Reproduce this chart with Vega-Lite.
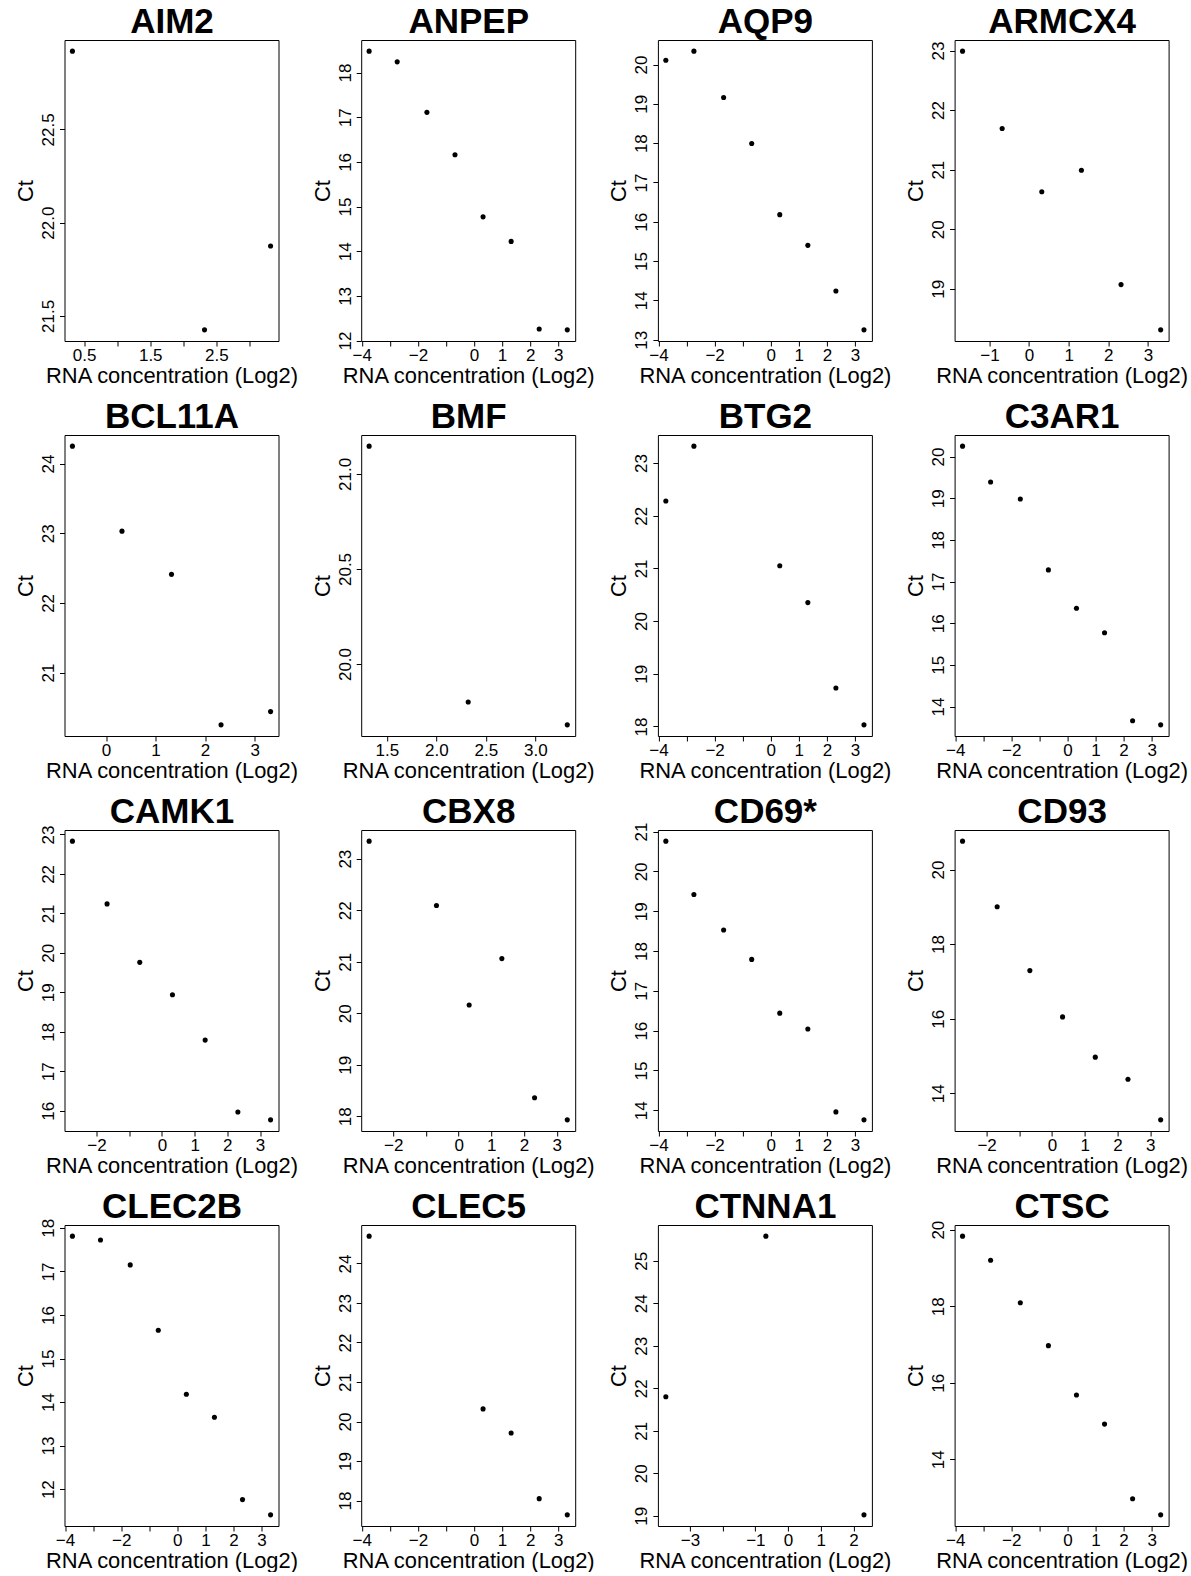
{
"$schema": "https://vega.github.io/schema/vega-lite/v6.json",
"background": "white",
"padding": {"left": 13.5, "top": 3, "right": 0, "bottom": 0},
"bounds": "flush",
"columns": 4,
"spacing": {"row": 94, "column": 82.7},
"data": {"values": [
{"g":"AIM2","x":0.322,"ct":22.92},{"g":"AIM2","x":2.322,"ct":21.425},{"g":"AIM2","x":3.322,"ct":21.875},
{"g":"ANPEP","x":-3.737,"ct":18.48},{"g":"ANPEP","x":-2.737,"ct":18.24},{"g":"ANPEP","x":-1.678,"ct":17.11},{"g":"ANPEP","x":-0.678,"ct":16.16},{"g":"ANPEP","x":0.322,"ct":14.77},{"g":"ANPEP","x":1.322,"ct":14.22},{"g":"ANPEP","x":2.322,"ct":12.26},{"g":"ANPEP","x":3.322,"ct":12.24},
{"g":"AQP9","x":-3.737,"ct":20.11},{"g":"AQP9","x":-2.737,"ct":20.34},{"g":"AQP9","x":-1.678,"ct":19.16},{"g":"AQP9","x":-0.678,"ct":17.99},{"g":"AQP9","x":0.322,"ct":16.18},{"g":"AQP9","x":1.322,"ct":15.40},{"g":"AQP9","x":2.322,"ct":14.24},{"g":"AQP9","x":3.322,"ct":13.25},
{"g":"ARMCX4","x":-1.678,"ct":22.99},{"g":"ARMCX4","x":-0.678,"ct":21.69},{"g":"ARMCX4","x":0.322,"ct":20.63},{"g":"ARMCX4","x":1.322,"ct":20.99},{"g":"ARMCX4","x":2.322,"ct":19.07},{"g":"ARMCX4","x":3.322,"ct":18.31},
{"g":"BCL11A","x":-0.678,"ct":24.25},{"g":"BCL11A","x":0.322,"ct":23.03},{"g":"BCL11A","x":1.322,"ct":22.41},{"g":"BCL11A","x":2.322,"ct":20.25},{"g":"BCL11A","x":3.322,"ct":20.44},
{"g":"BMF","x":1.322,"ct":21.146},{"g":"BMF","x":2.322,"ct":19.80},{"g":"BMF","x":3.322,"ct":19.68},
{"g":"BTG2","x":-3.737,"ct":22.28},{"g":"BTG2","x":-2.737,"ct":23.32},{"g":"BTG2","x":0.322,"ct":21.05},{"g":"BTG2","x":1.322,"ct":20.35},{"g":"BTG2","x":2.322,"ct":18.73},{"g":"BTG2","x":3.322,"ct":18.03},
{"g":"C3AR1","x":-3.737,"ct":20.25},{"g":"C3AR1","x":-2.737,"ct":19.39},{"g":"C3AR1","x":-1.678,"ct":18.98},{"g":"C3AR1","x":-0.678,"ct":17.28},{"g":"C3AR1","x":0.322,"ct":16.36},{"g":"C3AR1","x":1.322,"ct":15.77},{"g":"C3AR1","x":2.322,"ct":13.66},{"g":"C3AR1","x":3.322,"ct":13.56},
{"g":"CAMK1","x":-2.737,"ct":22.83},{"g":"CAMK1","x":-1.678,"ct":21.24},{"g":"CAMK1","x":-0.678,"ct":19.76},{"g":"CAMK1","x":0.322,"ct":18.94},{"g":"CAMK1","x":1.322,"ct":17.79},{"g":"CAMK1","x":2.322,"ct":15.97},{"g":"CAMK1","x":3.322,"ct":15.77},
{"g":"CBX8","x":-2.737,"ct":23.34},{"g":"CBX8","x":-0.678,"ct":22.09},{"g":"CBX8","x":0.322,"ct":20.16},{"g":"CBX8","x":1.322,"ct":21.06},{"g":"CBX8","x":2.322,"ct":18.36},{"g":"CBX8","x":3.322,"ct":17.93},
{"g":"CD69*","x":-3.737,"ct":20.76},{"g":"CD69*","x":-2.737,"ct":19.42},{"g":"CD69*","x":-1.678,"ct":18.53},{"g":"CD69*","x":-0.678,"ct":17.79},{"g":"CD69*","x":0.322,"ct":16.44},{"g":"CD69*","x":1.322,"ct":16.04},{"g":"CD69*","x":2.322,"ct":13.96},{"g":"CD69*","x":3.322,"ct":13.76},
{"g":"CD93","x":-2.737,"ct":20.76},{"g":"CD93","x":-1.678,"ct":19.0},{"g":"CD93","x":-0.678,"ct":17.29},{"g":"CD93","x":0.322,"ct":16.05},{"g":"CD93","x":1.322,"ct":14.97},{"g":"CD93","x":2.322,"ct":14.38},{"g":"CD93","x":3.322,"ct":13.29},
{"g":"CLEC2B","x":-3.737,"ct":17.81},{"g":"CLEC2B","x":-2.737,"ct":17.72},{"g":"CLEC2B","x":-1.678,"ct":17.15},{"g":"CLEC2B","x":-0.678,"ct":15.65},{"g":"CLEC2B","x":0.322,"ct":14.18},{"g":"CLEC2B","x":1.322,"ct":13.65},{"g":"CLEC2B","x":2.322,"ct":11.76},{"g":"CLEC2B","x":3.322,"ct":11.41},
{"g":"CLEC5","x":-3.737,"ct":24.69},{"g":"CLEC5","x":0.322,"ct":20.32},{"g":"CLEC5","x":1.322,"ct":19.71},{"g":"CLEC5","x":2.322,"ct":18.05},{"g":"CLEC5","x":3.322,"ct":17.64},
{"g":"CTNNA1","x":-3.737,"ct":21.80},{"g":"CTNNA1","x":-0.678,"ct":25.58},{"g":"CTNNA1","x":2.322,"ct":19.02},
{"g":"CTSC","x":-3.737,"ct":19.83},{"g":"CTSC","x":-2.737,"ct":19.2},{"g":"CTSC","x":-1.678,"ct":18.09},{"g":"CTSC","x":-0.678,"ct":16.97},{"g":"CTSC","x":0.322,"ct":15.68},{"g":"CTSC","x":1.322,"ct":14.92},{"g":"CTSC","x":2.322,"ct":12.97},{"g":"CTSC","x":3.322,"ct":12.55}
]},
"concat": [
{"width":214,"height":301,"transform":[{"filter":"datum.g === 'AIM2'"}],"resolve":{"axis":{"x":"independent"}},"layer":[
 {"mark":{"type":"circle"},"encoding":{"x":{"field":"x","type":"quantitative","title":"RNA concentration (Log2)","scale":{"zero":false,"nice":false,"padding":7.93},"axis":{"values":[0.5,1,1.5,2,2.5,3],"format":".1f","labelExpr":"datum.value == 1 || datum.value == 2 || datum.value == 3 ? '' : datum.label"}},
  "y":{"field":"ct","type":"quantitative","title":"Ct","scale":{"zero":false,"nice":false,"padding":11.15},"axis":{"values":[21.5,22,22.5],"format":".1f"}}}},
 {"mark":{"type":"circle","size":0,"opacity":0},"encoding":{"x":{"field":"x","type":"quantitative","scale":{"zero":false,"nice":false,"padding":7.93},"axis":{"orient":"top","title":"AIM2","labels":false,"ticks":false,"domain":false,"titleFontSize":35,"titleFontWeight":"bold","titleX":107,"titleY":-8,"titleBaseline":"alphabetic","titleAlign":"center"}}}}]},
{"width":214,"height":301,"transform":[{"filter":"datum.g === 'ANPEP'"}],"resolve":{"axis":{"x":"independent"}},"layer":[
 {"mark":{"type":"circle"},"encoding":{"x":{"field":"x","type":"quantitative","title":"RNA concentration (Log2)","scale":{"zero":false,"nice":false,"padding":7.93},"axis":{"values":[-4,-3,-2,-1,0,1,2,3],"format":"d","labelExpr":"datum.value == -3 || datum.value == -1 ? '' : datum.label"}},
  "y":{"field":"ct","type":"quantitative","title":"Ct","scale":{"zero":false,"nice":false,"padding":11.15},"axis":{"values":[12,13,14,15,16,17,18],"format":"d"}}}},
 {"mark":{"type":"circle","size":0,"opacity":0},"encoding":{"x":{"field":"x","type":"quantitative","scale":{"zero":false,"nice":false,"padding":7.93},"axis":{"orient":"top","title":"ANPEP","labels":false,"ticks":false,"domain":false,"titleFontSize":35,"titleFontWeight":"bold","titleX":107,"titleY":-8,"titleBaseline":"alphabetic","titleAlign":"center"}}}}]},
{"width":214,"height":301,"transform":[{"filter":"datum.g === 'AQP9'"}],"resolve":{"axis":{"x":"independent"}},"layer":[
 {"mark":{"type":"circle"},"encoding":{"x":{"field":"x","type":"quantitative","title":"RNA concentration (Log2)","scale":{"zero":false,"nice":false,"padding":7.93},"axis":{"values":[-4,-3,-2,-1,0,1,2,3],"format":"d","labelExpr":"datum.value == -3 || datum.value == -1 ? '' : datum.label"}},
  "y":{"field":"ct","type":"quantitative","title":"Ct","scale":{"zero":false,"nice":false,"padding":11.15},"axis":{"values":[13,14,15,16,17,18,19,20],"format":"d"}}}},
 {"mark":{"type":"circle","size":0,"opacity":0},"encoding":{"x":{"field":"x","type":"quantitative","scale":{"zero":false,"nice":false,"padding":7.93},"axis":{"orient":"top","title":"AQP9","labels":false,"ticks":false,"domain":false,"titleFontSize":35,"titleFontWeight":"bold","titleX":107,"titleY":-8,"titleBaseline":"alphabetic","titleAlign":"center"}}}}]},
{"width":214,"height":301,"transform":[{"filter":"datum.g === 'ARMCX4'"}],"resolve":{"axis":{"x":"independent"}},"layer":[
 {"mark":{"type":"circle"},"encoding":{"x":{"field":"x","type":"quantitative","title":"RNA concentration (Log2)","scale":{"zero":false,"nice":false,"padding":7.93},"axis":{"values":[-1,0,1,2,3],"format":"d"}},
  "y":{"field":"ct","type":"quantitative","title":"Ct","scale":{"zero":false,"nice":false,"padding":11.15},"axis":{"values":[19,20,21,22,23],"format":"d"}}}},
 {"mark":{"type":"circle","size":0,"opacity":0},"encoding":{"x":{"field":"x","type":"quantitative","scale":{"zero":false,"nice":false,"padding":7.93},"axis":{"orient":"top","title":"ARMCX4","labels":false,"ticks":false,"domain":false,"titleFontSize":35,"titleFontWeight":"bold","titleX":107,"titleY":-8,"titleBaseline":"alphabetic","titleAlign":"center"}}}}]},
{"width":214,"height":301,"transform":[{"filter":"datum.g === 'BCL11A'"}],"resolve":{"axis":{"x":"independent"}},"layer":[
 {"mark":{"type":"circle"},"encoding":{"x":{"field":"x","type":"quantitative","title":"RNA concentration (Log2)","scale":{"zero":false,"nice":false,"padding":7.93},"axis":{"values":[0,1,2,3],"format":"d"}},
  "y":{"field":"ct","type":"quantitative","title":"Ct","scale":{"zero":false,"nice":false,"padding":11.15},"axis":{"values":[21,22,23,24],"format":"d"}}}},
 {"mark":{"type":"circle","size":0,"opacity":0},"encoding":{"x":{"field":"x","type":"quantitative","scale":{"zero":false,"nice":false,"padding":7.93},"axis":{"orient":"top","title":"BCL11A","labels":false,"ticks":false,"domain":false,"titleFontSize":35,"titleFontWeight":"bold","titleX":107,"titleY":-8,"titleBaseline":"alphabetic","titleAlign":"center"}}}}]},
{"width":214,"height":301,"transform":[{"filter":"datum.g === 'BMF'"}],"resolve":{"axis":{"x":"independent"}},"layer":[
 {"mark":{"type":"circle"},"encoding":{"x":{"field":"x","type":"quantitative","title":"RNA concentration (Log2)","scale":{"zero":false,"nice":false,"padding":7.93},"axis":{"values":[1.5,2,2.5,3],"format":".1f"}},
  "y":{"field":"ct","type":"quantitative","title":"Ct","scale":{"zero":false,"nice":false,"padding":11.15},"axis":{"values":[20,20.5,21],"format":".1f"}}}},
 {"mark":{"type":"circle","size":0,"opacity":0},"encoding":{"x":{"field":"x","type":"quantitative","scale":{"zero":false,"nice":false,"padding":7.93},"axis":{"orient":"top","title":"BMF","labels":false,"ticks":false,"domain":false,"titleFontSize":35,"titleFontWeight":"bold","titleX":107,"titleY":-8,"titleBaseline":"alphabetic","titleAlign":"center"}}}}]},
{"width":214,"height":301,"transform":[{"filter":"datum.g === 'BTG2'"}],"resolve":{"axis":{"x":"independent"}},"layer":[
 {"mark":{"type":"circle"},"encoding":{"x":{"field":"x","type":"quantitative","title":"RNA concentration (Log2)","scale":{"zero":false,"nice":false,"padding":7.93},"axis":{"values":[-4,-3,-2,-1,0,1,2,3],"format":"d","labelExpr":"datum.value == -3 || datum.value == -1 ? '' : datum.label"}},
  "y":{"field":"ct","type":"quantitative","title":"Ct","scale":{"zero":false,"nice":false,"padding":11.15},"axis":{"values":[18,19,20,21,22,23],"format":"d"}}}},
 {"mark":{"type":"circle","size":0,"opacity":0},"encoding":{"x":{"field":"x","type":"quantitative","scale":{"zero":false,"nice":false,"padding":7.93},"axis":{"orient":"top","title":"BTG2","labels":false,"ticks":false,"domain":false,"titleFontSize":35,"titleFontWeight":"bold","titleX":107,"titleY":-8,"titleBaseline":"alphabetic","titleAlign":"center"}}}}]},
{"width":214,"height":301,"transform":[{"filter":"datum.g === 'C3AR1'"}],"resolve":{"axis":{"x":"independent"}},"layer":[
 {"mark":{"type":"circle"},"encoding":{"x":{"field":"x","type":"quantitative","title":"RNA concentration (Log2)","scale":{"zero":false,"nice":false,"padding":7.93},"axis":{"values":[-4,-3,-2,-1,0,1,2,3],"format":"d","labelExpr":"datum.value == -3 || datum.value == -1 ? '' : datum.label"}},
  "y":{"field":"ct","type":"quantitative","title":"Ct","scale":{"zero":false,"nice":false,"padding":11.15},"axis":{"values":[14,15,16,17,18,19,20],"format":"d"}}}},
 {"mark":{"type":"circle","size":0,"opacity":0},"encoding":{"x":{"field":"x","type":"quantitative","scale":{"zero":false,"nice":false,"padding":7.93},"axis":{"orient":"top","title":"C3AR1","labels":false,"ticks":false,"domain":false,"titleFontSize":35,"titleFontWeight":"bold","titleX":107,"titleY":-8,"titleBaseline":"alphabetic","titleAlign":"center"}}}}]},
{"width":214,"height":301,"transform":[{"filter":"datum.g === 'CAMK1'"}],"resolve":{"axis":{"x":"independent"}},"layer":[
 {"mark":{"type":"circle"},"encoding":{"x":{"field":"x","type":"quantitative","title":"RNA concentration (Log2)","scale":{"zero":false,"nice":false,"padding":7.93},"axis":{"values":[-2,-1,0,1,2,3],"format":"d","labelExpr":"datum.value == -1 ? '' : datum.label"}},
  "y":{"field":"ct","type":"quantitative","title":"Ct","scale":{"zero":false,"nice":false,"padding":11.15},"axis":{"values":[16,17,18,19,20,21,22,23],"format":"d"}}}},
 {"mark":{"type":"circle","size":0,"opacity":0},"encoding":{"x":{"field":"x","type":"quantitative","scale":{"zero":false,"nice":false,"padding":7.93},"axis":{"orient":"top","title":"CAMK1","labels":false,"ticks":false,"domain":false,"titleFontSize":35,"titleFontWeight":"bold","titleX":107,"titleY":-8,"titleBaseline":"alphabetic","titleAlign":"center"}}}}]},
{"width":214,"height":301,"transform":[{"filter":"datum.g === 'CBX8'"}],"resolve":{"axis":{"x":"independent"}},"layer":[
 {"mark":{"type":"circle"},"encoding":{"x":{"field":"x","type":"quantitative","title":"RNA concentration (Log2)","scale":{"zero":false,"nice":false,"padding":7.93},"axis":{"values":[-2,-1,0,1,2,3],"format":"d","labelExpr":"datum.value == -1 ? '' : datum.label"}},
  "y":{"field":"ct","type":"quantitative","title":"Ct","scale":{"zero":false,"nice":false,"padding":11.15},"axis":{"values":[18,19,20,21,22,23],"format":"d"}}}},
 {"mark":{"type":"circle","size":0,"opacity":0},"encoding":{"x":{"field":"x","type":"quantitative","scale":{"zero":false,"nice":false,"padding":7.93},"axis":{"orient":"top","title":"CBX8","labels":false,"ticks":false,"domain":false,"titleFontSize":35,"titleFontWeight":"bold","titleX":107,"titleY":-8,"titleBaseline":"alphabetic","titleAlign":"center"}}}}]},
{"width":214,"height":301,"transform":[{"filter":"datum.g === 'CD69*'"}],"resolve":{"axis":{"x":"independent"}},"layer":[
 {"mark":{"type":"circle"},"encoding":{"x":{"field":"x","type":"quantitative","title":"RNA concentration (Log2)","scale":{"zero":false,"nice":false,"padding":7.93},"axis":{"values":[-4,-3,-2,-1,0,1,2,3],"format":"d","labelExpr":"datum.value == -3 || datum.value == -1 ? '' : datum.label"}},
  "y":{"field":"ct","type":"quantitative","title":"Ct","scale":{"zero":false,"nice":false,"padding":11.15},"axis":{"values":[14,15,16,17,18,19,20,21],"format":"d"}}}},
 {"mark":{"type":"circle","size":0,"opacity":0},"encoding":{"x":{"field":"x","type":"quantitative","scale":{"zero":false,"nice":false,"padding":7.93},"axis":{"orient":"top","title":"CD69*","labels":false,"ticks":false,"domain":false,"titleFontSize":35,"titleFontWeight":"bold","titleX":107,"titleY":-8,"titleBaseline":"alphabetic","titleAlign":"center"}}}}]},
{"width":214,"height":301,"transform":[{"filter":"datum.g === 'CD93'"}],"resolve":{"axis":{"x":"independent"}},"layer":[
 {"mark":{"type":"circle"},"encoding":{"x":{"field":"x","type":"quantitative","title":"RNA concentration (Log2)","scale":{"zero":false,"nice":false,"padding":7.93},"axis":{"values":[-2,-1,0,1,2,3],"format":"d","labelExpr":"datum.value == -1 ? '' : datum.label"}},
  "y":{"field":"ct","type":"quantitative","title":"Ct","scale":{"zero":false,"nice":false,"padding":11.15},"axis":{"values":[14,16,18,20],"format":"d"}}}},
 {"mark":{"type":"circle","size":0,"opacity":0},"encoding":{"x":{"field":"x","type":"quantitative","scale":{"zero":false,"nice":false,"padding":7.93},"axis":{"orient":"top","title":"CD93","labels":false,"ticks":false,"domain":false,"titleFontSize":35,"titleFontWeight":"bold","titleX":107,"titleY":-8,"titleBaseline":"alphabetic","titleAlign":"center"}}}}]},
{"width":214,"height":301,"transform":[{"filter":"datum.g === 'CLEC2B'"}],"resolve":{"axis":{"x":"independent"}},"layer":[
 {"mark":{"type":"circle"},"encoding":{"x":{"field":"x","type":"quantitative","title":"RNA concentration (Log2)","scale":{"zero":false,"nice":false,"padding":7.93},"axis":{"values":[-4,-3,-2,-1,0,1,2,3],"format":"d","labelExpr":"datum.value == -3 || datum.value == -1 ? '' : datum.label"}},
  "y":{"field":"ct","type":"quantitative","title":"Ct","scale":{"zero":false,"nice":false,"padding":11.15},"axis":{"values":[12,13,14,15,16,17,18],"format":"d"}}}},
 {"mark":{"type":"circle","size":0,"opacity":0},"encoding":{"x":{"field":"x","type":"quantitative","scale":{"zero":false,"nice":false,"padding":7.93},"axis":{"orient":"top","title":"CLEC2B","labels":false,"ticks":false,"domain":false,"titleFontSize":35,"titleFontWeight":"bold","titleX":107,"titleY":-8,"titleBaseline":"alphabetic","titleAlign":"center"}}}}]},
{"width":214,"height":301,"transform":[{"filter":"datum.g === 'CLEC5'"}],"resolve":{"axis":{"x":"independent"}},"layer":[
 {"mark":{"type":"circle"},"encoding":{"x":{"field":"x","type":"quantitative","title":"RNA concentration (Log2)","scale":{"zero":false,"nice":false,"padding":7.93},"axis":{"values":[-4,-3,-2,-1,0,1,2,3],"format":"d","labelExpr":"datum.value == -3 || datum.value == -1 ? '' : datum.label"}},
  "y":{"field":"ct","type":"quantitative","title":"Ct","scale":{"zero":false,"nice":false,"padding":11.15},"axis":{"values":[18,19,20,21,22,23,24],"format":"d"}}}},
 {"mark":{"type":"circle","size":0,"opacity":0},"encoding":{"x":{"field":"x","type":"quantitative","scale":{"zero":false,"nice":false,"padding":7.93},"axis":{"orient":"top","title":"CLEC5","labels":false,"ticks":false,"domain":false,"titleFontSize":35,"titleFontWeight":"bold","titleX":107,"titleY":-8,"titleBaseline":"alphabetic","titleAlign":"center"}}}}]},
{"width":214,"height":301,"transform":[{"filter":"datum.g === 'CTNNA1'"}],"resolve":{"axis":{"x":"independent"}},"layer":[
 {"mark":{"type":"circle"},"encoding":{"x":{"field":"x","type":"quantitative","title":"RNA concentration (Log2)","scale":{"zero":false,"nice":false,"padding":7.93},"axis":{"values":[-3,-2,-1,0,1,2],"format":"d","labelExpr":"datum.value == -2 ? '' : datum.label"}},
  "y":{"field":"ct","type":"quantitative","title":"Ct","scale":{"zero":false,"nice":false,"padding":11.15},"axis":{"values":[19,20,21,22,23,24,25],"format":"d"}}}},
 {"mark":{"type":"circle","size":0,"opacity":0},"encoding":{"x":{"field":"x","type":"quantitative","scale":{"zero":false,"nice":false,"padding":7.93},"axis":{"orient":"top","title":"CTNNA1","labels":false,"ticks":false,"domain":false,"titleFontSize":35,"titleFontWeight":"bold","titleX":107,"titleY":-8,"titleBaseline":"alphabetic","titleAlign":"center"}}}}]},
{"width":214,"height":301,"transform":[{"filter":"datum.g === 'CTSC'"}],"resolve":{"axis":{"x":"independent"}},"layer":[
 {"mark":{"type":"circle"},"encoding":{"x":{"field":"x","type":"quantitative","title":"RNA concentration (Log2)","scale":{"zero":false,"nice":false,"padding":7.93},"axis":{"values":[-4,-3,-2,-1,0,1,2,3],"format":"d","labelExpr":"datum.value == -3 || datum.value == -1 ? '' : datum.label"}},
  "y":{"field":"ct","type":"quantitative","title":"Ct","scale":{"zero":false,"nice":false,"padding":11.15},"axis":{"values":[14,16,18,20],"format":"d"}}}},
 {"mark":{"type":"circle","size":0,"opacity":0},"encoding":{"x":{"field":"x","type":"quantitative","scale":{"zero":false,"nice":false,"padding":7.93},"axis":{"orient":"top","title":"CTSC","labels":false,"ticks":false,"domain":false,"titleFontSize":35,"titleFontWeight":"bold","titleX":107,"titleY":-8,"titleBaseline":"alphabetic","titleAlign":"center"}}}}]}
],
"config": {
 "view": {"stroke": "black", "strokeWidth": 1, "fill": "white"},
 "circle": {"size": 26, "color": "black", "opacity": 1},
 "axis": {"domain": false, "grid": false, "ticks": true, "tickColor": "black", "tickSize": 5, "tickWidth": 1,
   "labelFont": "Liberation Sans", "labelFontSize": 17, "labelColor": "black", "labelFlush": false, "labelOverlap": false, "labelBound": false,
   "titleFont": "Liberation Sans", "titleFontSize": 21.9, "titleFontWeight": "normal", "titleColor": "black"},
 "axisX": {"labelAngle": 0, "labelAlign": "center", "labelBaseline": "top", "labelPadding": 1.5, "titleBaseline": "alphabetic", "titleAlign": "center", "titleX": 107, "titleY": 41},
 "axisY": {"labelAngle": 270, "labelAlign": "center", "labelBaseline": "alphabetic", "labelPadding": 6, "titleAngle": 270, "titleAlign": "center", "titleBaseline": "alphabetic", "titleX": -32, "titleY": 150.5}
}
}
